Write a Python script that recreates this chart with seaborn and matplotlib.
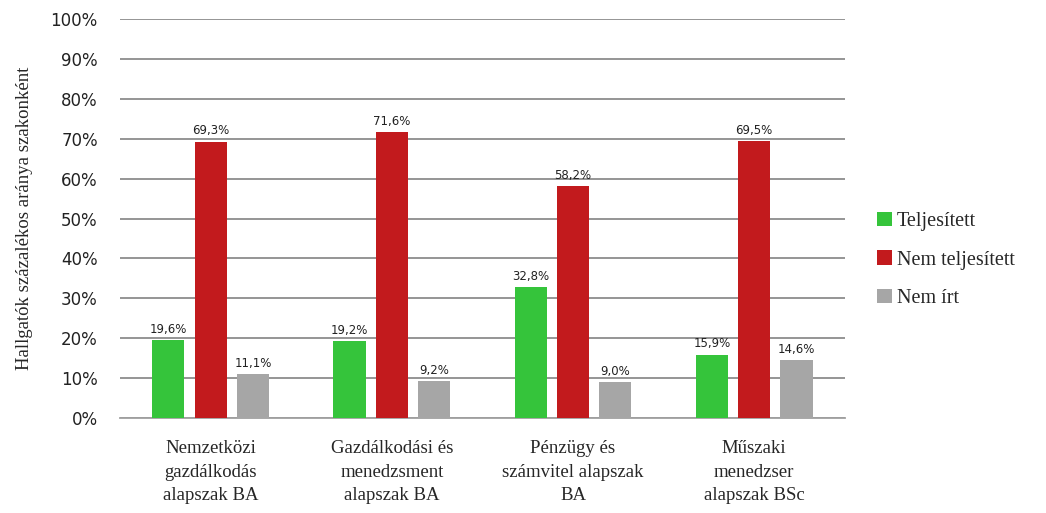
import pandas as pd
import matplotlib
matplotlib.use('Agg')
import matplotlib.pyplot as plt
import seaborn as sns
from matplotlib.ticker import FuncFormatter

# Data
majors = ['Nemzetközi\ngazdálkodás\nalapszak BA',
          'Gazdálkodási és\nmenedzsment\nalapszak BA',
          'Pénzügy és\nszámvitel alapszak\nBA',
          'Műszaki\nmenedzser\nalapszak BSc']
statuses = ['Teljesített', 'Nem teljesített', 'Nem írt']
teljesitett = [19.6, 19.2, 32.8, 15.9]
nem_teljesitett = [69.3, 71.6, 58.2, 69.5]
nem_irt = [11.1, 9.2, 9.0, 14.6]
colors = ['#35C43B', '#C21A1D', '#A6A6A6']

df = pd.DataFrame({
    'Szak': majors * 3,
    'Státusz': [s for s in statuses for _ in majors],
    'Arány': teljesitett + nem_teljesitett + nem_irt,
})

sns.set_style('white')
serif = ['Liberation Serif', 'DejaVu Serif']

fig = plt.figure(figsize=(10.46, 5.13), dpi=100)
ax = fig.add_axes([0.1147, 0.185, 0.693, 0.778])

sns.barplot(data=df, x='Szak', y='Arány', hue='Státusz', hue_order=statuses,
            palette=colors, width=0.7, gap=0.24, ax=ax, zorder=3,
            edgecolor='none', saturation=1)

for cont in ax.containers:
    labels = [f'{v:.1f}%'.replace('.', ',') for v in cont.datavalues]
    ax.bar_label(cont, labels=labels, padding=3, fontsize=8.5,
                 family='DejaVu Sans', color='#222222')

ax.set_ylim(0, 100)
ax.set_yticks(range(0, 101, 10))
ax.yaxis.set_major_formatter(FuncFormatter(lambda v, _: f'{v:.0f}%'))
ax.grid(axis='y', color='#8C8C8C', linewidth=1.3, zorder=0)
ax.set_axisbelow(True)
for side in ['left', 'right', 'top']:
    ax.spines[side].set_visible(False)
ax.spines['bottom'].set_color('#A0A0A0')
ax.spines['bottom'].set_linewidth(1.3)
ax.tick_params(axis='y', length=6, color='#8C8C8C', width=1.3,
               labelsize=12, labelcolor='#222222', pad=10)
ax.tick_params(axis='x', length=0, pad=16)
for lab in ax.get_xticklabels():
    lab.set_fontfamily(serif)
    lab.set_fontsize(13.5)
    lab.set_linespacing(1.5)
ax.set_xlabel('')
ax.set_ylabel('Hallgatók százalékos aránya szakonként', family=serif,
              fontsize=13.5, labelpad=10)
ax.yaxis.set_label_coords(-0.12, 0.5)

ax.legend(loc='center left', bbox_to_anchor=(1.02, 0.396), frameon=False,
          prop={'family': serif, 'size': 14.5}, handlelength=0.7,
          handleheight=0.7, handletextpad=0.25, labelspacing=0.95)

fig.savefig('out.png', dpi=100)
